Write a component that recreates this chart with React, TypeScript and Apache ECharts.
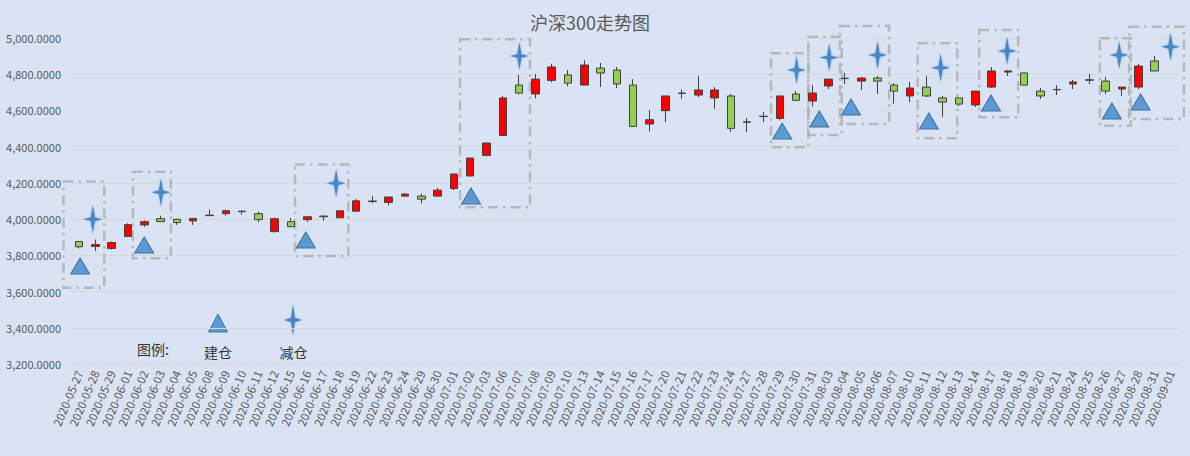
import React, { useEffect, useRef } from "react";
import * as echarts from "echarts";

const dates = [
  "2020-05-27", "2020-05-28", "2020-05-29", "2020-06-01", "2020-06-02", "2020-06-03", "2020-06-04", "2020-06-05",
  "2020-06-08", "2020-06-09", "2020-06-10", "2020-06-11", "2020-06-12", "2020-06-15", "2020-06-16", "2020-06-17",
  "2020-06-18", "2020-06-19", "2020-06-22", "2020-06-23", "2020-06-24", "2020-06-29", "2020-06-30", "2020-07-01",
  "2020-07-02", "2020-07-03", "2020-07-06", "2020-07-07", "2020-07-08", "2020-07-09", "2020-07-10", "2020-07-13",
  "2020-07-14", "2020-07-15", "2020-07-16", "2020-07-17", "2020-07-20", "2020-07-21", "2020-07-22", "2020-07-23",
  "2020-07-24", "2020-07-27", "2020-07-28", "2020-07-29", "2020-07-30", "2020-07-31", "2020-08-03", "2020-08-04",
  "2020-08-05", "2020-08-06", "2020-08-07", "2020-08-10", "2020-08-11", "2020-08-12", "2020-08-13", "2020-08-14",
  "2020-08-17", "2020-08-18", "2020-08-19", "2020-08-20", "2020-08-21", "2020-08-24", "2020-08-25", "2020-08-26",
  "2020-08-27", "2020-08-28", "2020-08-31", "2020-09-01",
];

const openValues = [
  3876, 3849, 3838, 3904, 3968, 4002, 3999, 3990, 4019, 4030, 4041, 4030, 3931, 3986, 3997, 4013,
  4007, 4044, 4097, 4092, 4127, 4127, 4127, 4169, 4238, 4352, 4462, 4740, 4691, 4766, 4796, 4740,
  4834, 4823, 4740, 4525, 4599, 4694, 4685, 4669, 4680, 4535, 4566, 4556, 4691, 4652, 4735, 4776,
  4762, 4779, 4740, 4680, 4729, 4669, 4669, 4630, 4729, 4812, 4807, 4707, 4714, 4746, 4767, 4762,
  4718, 4729, 4873, null,
];
const closeValues = [
  3847, 3860, 3871, 3969, 3986, 3986, 3981, 4004, 4022, 4046, 4044, 3997, 4002, 3958, 4013, 4017,
  4046, 4101, 4100, 4122, 4138, 4110, 4160, 4249, 4337, 4420, 4669, 4696, 4773, 4840, 4751, 4851,
  4807, 4746, 4512, 4549, 4680, 4696, 4713, 4713, 4501, 4537, 4568, 4680, 4656, 4696, 4773, 4778,
  4779, 4762, 4707, 4724, 4680, 4646, 4635, 4707, 4818, 4818, 4740, 4680, 4716, 4757, 4769, 4707,
  4729, 4845, 4818, null,
];
const lowValues = [
  3838, 3823, 3832, 3900, 3957, 3986, 3968, 3968, 4019, 4019, 4024, 3982, 3925, 3958, 3984, 3991,
  4005, 4044, 4088, 4075, 4122, 4087, 4127, 4160, 4238, 4346, 4462, 4689, 4667, 4755, 4733, 4740,
  4729, 4724, 4512, 4484, 4536, 4665, 4674, 4608, 4481, 4481, 4536, 4545, 4652, 4622, 4718, 4746,
  4713, 4691, 4637, 4646, 4674, 4565, 4624, 4619, 4724, 4790, 4740, 4663, 4685, 4718, 4746, 4691,
  4680, 4718, 4818, null,
];
const highValues = [
  3876, 3887, 3876, 3977, 3993, 4019, 4002, 4004, 4052, 4052, 4046, 4041, 4009, 4007, 4013, 4019,
  4046, 4110, 4128, 4122, 4144, 4140, 4171, 4249, 4340, 4422, 4680, 4796, 4801, 4858, 4823, 4877,
  4862, 4840, 4773, 4602, 4680, 4715, 4790, 4729, 4691, 4558, 4591, 4680, 4707, 4740, 4773, 4807,
  4785, 4790, 4751, 4757, 4790, 4680, 4669, 4707, 4840, 4823, 4807, 4724, 4740, 4768, 4801, 4785,
  4729, 4856, 4901, null,
];

// 建仓 (build position) markers: category position and price level
const buildPos = [0.06, 3.99, 13.91, 24.05, 43.15, 45.42, 47.37, 52.15, 55.96, 63.38, 65.14];
const buildVal = [3741, 3857, 3885, 4128, 4486, 4553, 4619, 4542, 4641, 4597, 4647];

// 减仓 (reduce position) markers
const reducePos = [0.84, 5.02, 15.77, 27.02, 44.03, 46.03, 49.0, 52.87, 56.95, 63.83, 66.98];
const reduceVal = [3999, 4148, 4198, 4901, 4823, 4893, 4906, 4836, 4928, 4906, 4952];

// dashed highlight boxes: category range and price range
const boxStart = [-0.96, 3.3, 13.25, 23.38, 42.46, 44.75, 46.69, 51.46, 55.24, 62.64, 64.44];
const boxEnd = [1.54, 5.63, 16.52, 27.67, 44.75, 46.8, 49.71, 53.89, 57.63, 64.54, 67.8];
const boxLow = [3621, 3784, 3796, 4065, 4397, 4465, 4525, 4447, 4562, 4515, 4553];
const boxHigh = [4207, 4262, 4302, 4993, 4916, 5007, 5066, 4971, 5044, 4998, 5062];

const yTicks = { min: 3200, max: 5000, interval: 200 };

const FONT = "'Noto Sans CJK SC', 'Noto Sans', sans-serif";
const STAR_PATH = "path://M0,-16 L2,-2 L9,0 L2,2 L0,16 L-2,2 L-9,0 L-2,-2 Z";
const STAR_COLOR = "#4A86C6";

function starPoints(cx: number, cy: number, w: number, h: number): number[][] {
  const hw = w / 2;
  const hh = h / 2;
  const ix = hw * 0.22;
  const iy = hh * 0.125;
  return [
    [cx, cy - hh], [cx + ix, cy - iy], [cx + hw, cy], [cx + ix, cy + iy],
    [cx, cy + hh], [cx - ix, cy + iy], [cx - hw, cy], [cx - ix, cy - iy],
  ];
}

export default function App() {
  const ref = useRef<HTMLDivElement>(null);

  useEffect(() => {
    if (!ref.current) return;
    const chart = echarts.init(ref.current, null, { renderer: "svg" });

    const candleData = dates.map((_, i) =>
      openValues[i] == null
        ? "-"
        : [openValues[i], closeValues[i], lowValues[i], highValues[i]]
    );
    const buildData = buildPos.map((p, i) => [p, buildVal[i]]);
    const reduceData = reducePos.map((p, i) => [p, reduceVal[i]]);
    const boxData = boxStart.map((s, i) => [s, boxEnd[i], boxLow[i], boxHigh[i]]);

    const option: any = {
      animation: false,
      backgroundColor: "#DAE3F3",
      textStyle: { fontFamily: FONT },
      title: {
        text: "沪深300走势图",
        left: 525,
        top: 8,
        textStyle: { fontSize: 18, fontWeight: "normal", color: "#595959", fontFamily: FONT },
      },
      grid: {
        left: 71,
        right: 11,
        top: 38,
        bottom: 92,
        containLabel: false,
        outerBoundsMode: "none",
      },
      xAxis: [
        {
          type: "category",
          data: dates,
          boundaryGap: true,
          axisLine: { show: true, lineStyle: { color: "#D9D9D9", width: 1 } },
          axisTick: { show: true, length: 5, lineStyle: { color: "#D9D9D9" } },
          axisLabel: {
            rotate: 67,
            interval: 0,
            fontSize: 11.5,
            color: "#595959",
            margin: 7,
            fontFamily: FONT,
          },
          splitLine: { show: false },
        },
        {
          type: "value",
          min: -0.5,
          max: 67.5,
          show: false,
          splitLine: { show: false },
        },
      ],
      yAxis: {
        type: "value",
        min: yTicks.min,
        max: yTicks.max,
        interval: yTicks.interval,
        scale: false,
        axisLine: { show: false },
        axisTick: { show: false },
        axisLabel: {
          fontSize: 11,
          color: "#595959",
          margin: 10,
          fontFamily: FONT,
          formatter: (v: number) =>
            v.toLocaleString("en-US", { minimumFractionDigits: 4, maximumFractionDigits: 4 }),
        },
        splitLine: { show: true, lineStyle: { color: "#D9D9D9", width: 1 } },
      },
      series: [
        {
          type: "custom",
          name: "boxes",
          xAxisIndex: 1,
          yAxisIndex: 0,
          clip: false,
          z: 1,
          silent: true,
          encode: { x: [0, 1], y: [2, 3] },
          data: boxData,
          renderItem: (params: any, api: any) => {
            const p1 = api.coord([api.value(0), api.value(3)]);
            const p2 = api.coord([api.value(1), api.value(2)]);
            return {
              type: "rect",
              shape: { x: p1[0], y: p1[1], width: p2[0] - p1[0], height: p2[1] - p1[1] },
              style: {
                fill: "none",
                stroke: "rgba(172,172,172,0.8)",
                lineWidth: 2.5,
                lineDash: [10, 5, 2.5, 5],
              },
            };
          },
        },
        {
          type: "candlestick",
          name: "沪深300",
          xAxisIndex: 0,
          yAxisIndex: 0,
          barWidth: 8,
          z: 3,
          data: candleData,
          itemStyle: {
            color: "#FF0000",
            color0: "#92D050",
            borderColor: "#404040",
            borderColor0: "#404040",
            borderWidth: 1,
          },
        },
        {
          type: "scatter",
          name: "建仓",
          xAxisIndex: 1,
          yAxisIndex: 0,
          symbol: "triangle",
          symbolSize: [19, 16],
          z: 5,
          clip: false,
          data: buildData,
          itemStyle: { color: "#5B9BD5", borderColor: "#41719C", borderWidth: 1, opacity: 1 },
        },
        {
          type: "scatter",
          name: "减仓",
          xAxisIndex: 1,
          yAxisIndex: 0,
          symbol: STAR_PATH,
          symbolSize: [19, 28],
          z: 5,
          clip: false,
          data: reduceData,
          itemStyle: {
            color: STAR_COLOR,
            opacity: 1,
            shadowColor: "rgba(74,134,198,0.6)",
            shadowBlur: 2,
          },
        },
      ],
      graphic: [
        {
          type: "text",
          left: 137,
          top: 342,
          style: { text: "图例:", fontSize: 14, fill: "#333333", fontFamily: FONT },
        },
        {
          type: "polygon",
          shape: { points: [[218, 314], [227.5, 332], [208.5, 332]] },
          style: { fill: "#5B9BD5", stroke: "#41719C", lineWidth: 1 },
        },
        {
          type: "text",
          x: 218,
          y: 352,
          style: {
            text: "建仓",
            fontSize: 14,
            fill: "#333333",
            fontFamily: FONT,
            textAlign: "center",
            textVerticalAlign: "middle",
          },
        },
        {
          type: "polygon",
          shape: { points: starPoints(293, 320, 18, 31) },
          style: { fill: STAR_COLOR, shadowColor: "rgba(74,134,198,0.6)", shadowBlur: 2 },
        },
        {
          type: "text",
          x: 293.5,
          y: 352,
          style: {
            text: "减仓",
            fontSize: 14,
            fill: "#333333",
            fontFamily: FONT,
            textAlign: "center",
            textVerticalAlign: "middle",
          },
        },
      ],
    };

    chart.setOption(option);
    return () => chart.dispose();
  }, []);

  return (
    <div
      ref={ref}
      style={{ position: "fixed", left: 0, top: 0, width: 1190, height: 456 }}
    />
  );
}
